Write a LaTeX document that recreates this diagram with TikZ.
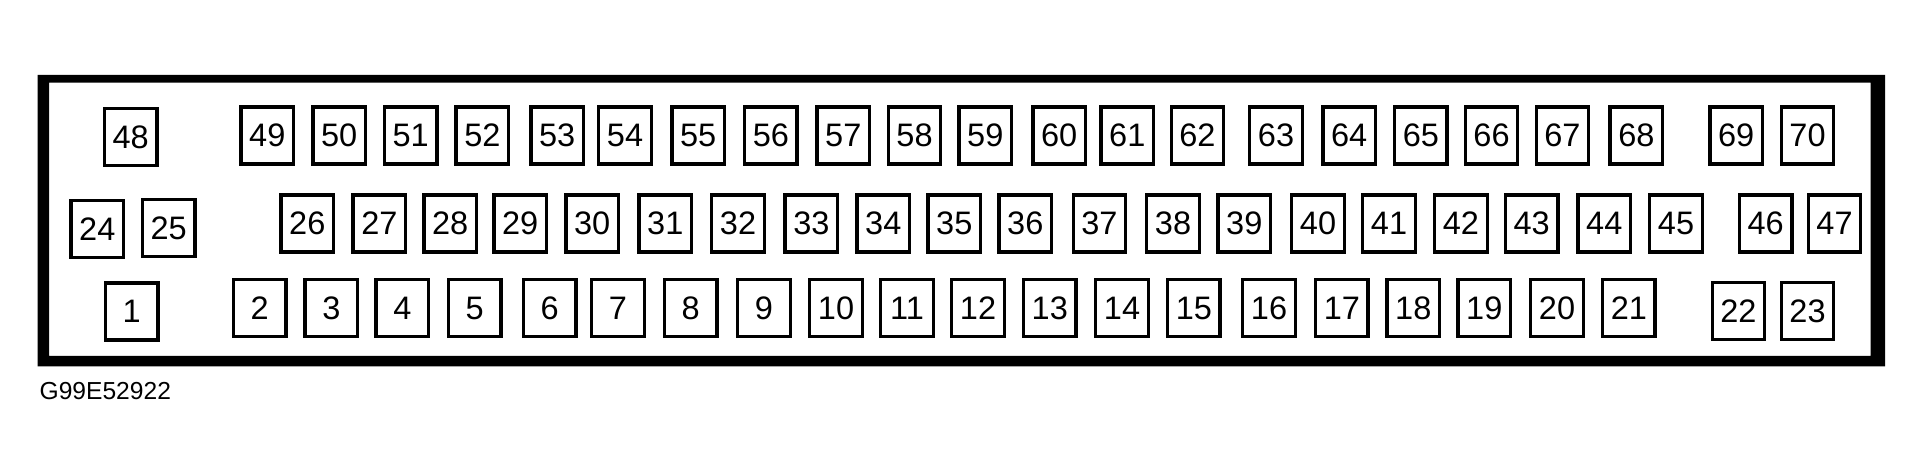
\documentclass[tikz,border=0pt]{standalone}
\usepackage{fontspec}
\setmainfont{Liberation Sans}
\begin{document}
\begin{tikzpicture}
  [x=0.02cm,y=-0.02cm,every node/.style={draw,line width=1.9pt,inner sep=0pt,minimum width=1.05cm,minimum height=1.14cm,font=\fontsize{18.5}{18.5}\selectfont}]
  \useasboundingbox (0,0) rectangle (1922,475);
  % housing
  \fill[even odd rule] (37.6,75) rectangle (1885,366.5) (49,82.7) rectangle (1870.5,356);

  \node (p48) at (130.6,137) {48};
  \foreach \n/\x in {49/267.3,50/339.2,51/410.6,52/482.4,53/557.1,54/625,55/698.2,56/770.9,
   57/843.3,58/914.5,59/985.3,60/1059.2,61/1127.3,62/1197.4,63/1276,64/1349.2,65/1420.9,
   66/1491.5,67/1562.4,68/1636.3,69/1736.1,70/1807.5}
    \node (p\n) at (\x,135.4) {\n};

  \node (p24) at (97.3,228.7) {24};
  \node (p25) at (168.6,228) {25};
  \foreach \n/\x in {26/307.3,27/379.4,28/450.2,29/520.2,30/592.2,31/665.3,32/738,33/811.4,
   34/883.3,35/954.3,36/1025.3,37/1099.4,38/1173,39/1244.3,40/1318,41/1389,42/1460.9,
   43/1531.6,44/1604.3,45/1676,46/1765.7,47/1834.5}
    \node (p\n) at (\x,223.4) {\n};

  \node (p1) at (131.6,311.4) {1};
  \foreach \n/\x in {2/259.6,3/331.4,4/402.4,5/474.7,6/549.6,7/618,8/690.7,9/764,10/836,
   11/907,12/978,13/1049.8,14/1122,15/1193.9,16/1269,17/1341.9,18/1413.3,19/1484.3,
   20/1557,21/1628.8}
    \node (p\n) at (\x,308.2) {\n};
  \node (p22) at (1738.4,311.2) {22};
  \node (p23) at (1807.5,311.2) {23};

  \node[draw=none,minimum width=0pt,minimum height=0pt,anchor=base west,font=\fontsize{14}{14}\selectfont] (code) at (38,399.3) {G99E52922};
    \end{tikzpicture}
\end{document}
